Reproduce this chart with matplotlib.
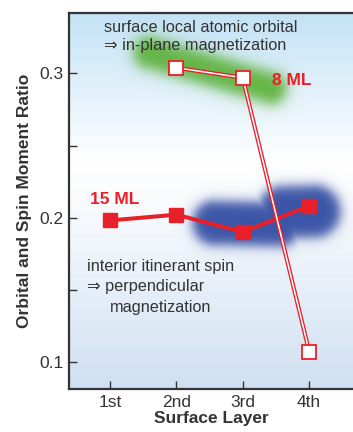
import numpy as np
import matplotlib
matplotlib.use('Agg')
import matplotlib.pyplot as plt
from matplotlib.colors import LinearSegmentedColormap, to_rgb
from matplotlib.ticker import MultipleLocator, FormatStrFormatter

plt.rcParams['font.family'] = ['Liberation Sans', 'DejaVu Sans']

# data
layers = [1, 2, 3, 4]
layer_labels = ['1st', '2nd', '3rd', '4th']
ml15_x = [1, 2, 3, 4]
ml15_y = [0.198, 0.202, 0.190, 0.208]
ml8_x = [2, 3, 4]
ml8_y = [0.304, 0.297, 0.107]

RED = '#e8202a'
INK = '#333333'
XLIM = (0.383, 4.66)
YLIM = (0.081, 0.342)

fig = plt.figure(figsize=(3.53, 4.32), dpi=100)
ax = fig.add_axes([0.1955, 0.0995, 0.8045, 0.8705])
ax.set_xlim(*XLIM)
ax.set_ylim(*YLIM)

# background gradient (top light blue -> white -> light blue-grey)
bg = LinearSegmentedColormap.from_list('bg', [
    (0.0, '#d0e0f2'), (0.41, '#f3f7fc'), (0.60, '#ffffff'), (1.0, '#c3e2f6')])
grad = np.linspace(0, 1, 256).reshape(-1, 1)
ax.imshow(grad, cmap=bg, origin='lower', aspect='auto',
          extent=(*XLIM, *YLIM), zorder=0)

# blurred blobs, built in display pixels
nx, ny = 400, 400
gx, gy = np.meshgrid(np.linspace(*XLIM, nx), np.linspace(*YLIM, ny))
pts = ax.transData.transform(np.column_stack([gx.ravel(), gy.ravel()]))
px = pts[:, 0].reshape(ny, nx)
py = pts[:, 1].reshape(ny, nx)


def capsule(p0, p1, r):
    a = ax.transData.transform(p0)
    b = ax.transData.transform(p1)
    d = b - a
    t = ((px - a[0]) * d[0] + (py - a[1]) * d[1]) / (d @ d)
    t = np.clip(t, 0, 1)
    dist = np.hypot(px - (a[0] + t * d[0]), py - (a[1] + t * d[1]))
    return r - dist


def blob(fields, color, soft, alpha_max):
    f = np.max(fields, axis=0)
    a = 1 / (1 + np.exp(-f / soft)) * alpha_max
    img = np.zeros((ny, nx, 4))
    img[..., :3] = to_rgb(color)
    img[..., 3] = a
    ax.imshow(img, origin='lower', aspect='auto', extent=(*XLIM, *YLIM),
              zorder=1, interpolation='bilinear')


blob([capsule((1.60, 0.3140), (3.42, 0.2895), 15.5)], '#5cb23a', 4.0, 0.95)
blob([capsule((2.58, 0.1960), (3.55, 0.1950), 22),
      capsule((3.62, 0.2035), (4.08, 0.2040), 26)], '#3b54a6', 3.4, 1.0)

# 15 ML solid line
ax.plot(ml15_x, ml15_y, color=RED, lw=2.9, marker='s', ms=9.5,
        mfc=RED, mec=RED, zorder=3, solid_capstyle='butt')

# 8 ML double line with open squares
ax.plot(ml8_x, ml8_y, color=RED, lw=3.0, zorder=4, solid_capstyle='butt')
ax.plot(ml8_x, ml8_y, color='white', lw=1.1, zorder=4.1, solid_capstyle='butt')
ax.plot(ml8_x, ml8_y, ls='none', marker='s', ms=9.5, mfc='white',
        mec=RED, mew=1.3, zorder=5)

# annotations
ax.text(0.91, 0.332, 'surface local atomic orbital', fontsize=11.7,
        color=INK, va='center', ha='left', zorder=6)
ax.text(0.91, 0.3194, '\u21d2 in-plane magnetization', fontsize=11.7,
        color=INK, va='center', ha='left', zorder=6)
ax.text(0.654, 0.1658, 'interior itinerant spin', fontsize=11.7,
        color=INK, va='center', ha='left', zorder=6)
ax.text(0.654, 0.1519, '\u21d2 perpendicular', fontsize=11.7,
        color=INK, va='center', ha='left', zorder=6)
ax.text(1.0, 0.1373, 'magnetization', fontsize=11.7,
        color=INK, va='center', ha='left', zorder=6)
ax.text(0.70, 0.2123, '15 ML', fontsize=12.5, fontweight='bold',
        color=RED, va='center', ha='left', zorder=6)
ax.text(3.436, 0.2951, '8 ML', fontsize=12.5, fontweight='bold',
        color=RED, va='center', ha='left', zorder=6)

# axes styling
ax.set_xticks(layers)
ax.set_xticklabels(layer_labels)
ax.yaxis.set_major_locator(MultipleLocator(0.1))
ax.yaxis.set_minor_locator(MultipleLocator(0.05))
ax.yaxis.set_major_formatter(FormatStrFormatter('%.1f'))
ax.tick_params(axis='both', which='both', direction='in', length=6,
               width=1.0, color=INK, labelsize=12.5, labelcolor=INK, pad=4)
ax.tick_params(axis='x', pad=4)
for side in ('top', 'left', 'bottom'):
    ax.spines[side].set_color(INK)
    ax.spines[side].set_linewidth(1.6)
ax.spines['right'].set_visible(False)

ax.set_xlabel('Surface Layer', fontsize=12.5, fontweight='bold',
              color=INK, labelpad=1)
ax.set_ylabel('Orbital and Spin Moment Ratio', fontsize=12.5,
              fontweight='bold', color=INK, labelpad=5)

fig.savefig('out.png', dpi=100)
